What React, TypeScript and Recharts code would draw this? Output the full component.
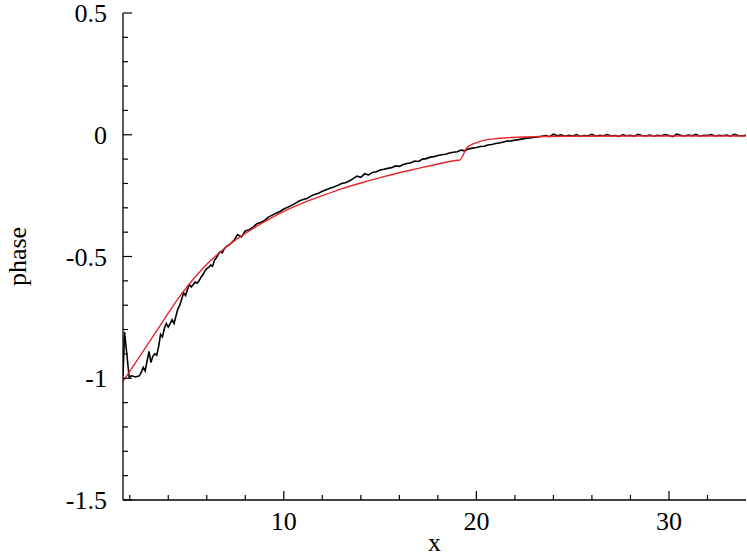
import React from "react";
import { LineChart, Line, XAxis, YAxis, Label } from "recharts";

// ---- data ----
const measuredX = [
  1.65, 1.73, 1.97, 2.1, 2.3, 2.5, 2.6, 2.7, 2.8, 2.9, 3.0, 3.1, 3.2, 3.3, 3.4, 3.5, 3.6, 3.7, 3.8, 3.9,
  4.0, 4.1, 4.2, 4.3, 4.4, 4.5, 4.6, 4.7, 4.8, 4.9, 5.0, 5.1, 5.2, 5.3, 5.4, 5.5, 5.6, 5.7, 5.8, 5.9,
  6.0, 6.1, 6.2, 6.3, 6.4, 6.5, 6.6, 6.7, 6.8, 6.9, 7.0, 7.2, 7.4, 7.6, 7.8, 8.0, 8.2, 8.4, 8.6, 8.8,
  9.0, 9.2, 9.4, 9.6, 9.8, 10.0, 10.2, 10.4, 10.6, 10.8, 11.0, 11.2, 11.4, 11.6, 11.8, 12.0, 12.2, 12.4,
  12.6, 12.8, 13.0, 13.2, 13.4, 13.6, 13.8, 14.0, 14.2, 14.4, 14.6, 14.8, 15.0, 15.2, 15.4, 15.6, 15.8,
  16.0, 16.2, 16.4, 16.6, 16.8, 17.0, 17.2, 17.4, 17.6, 17.8, 18.0, 18.2, 18.4, 18.6, 18.8, 19.0, 19.2,
  19.4, 19.6, 19.8, 20.0, 20.2, 20.4, 20.6, 20.8, 21.0, 21.2, 21.4, 21.6, 21.8, 22.0, 22.2, 22.4, 22.6,
  22.8, 23.0, 23.2, 23.4, 23.6, 23.8, 24.0, 24.2, 24.4, 24.6, 24.8, 25.0, 25.2, 25.4, 25.6, 25.8, 26.0,
  26.2, 26.4, 26.6, 26.8, 27.0, 27.2, 27.4, 27.6, 27.8, 28.0, 28.2, 28.4, 28.6, 28.8, 29.0, 29.2, 29.4,
  29.6, 29.8, 30.0, 30.2, 30.4, 30.6, 30.8, 31.0, 31.2, 31.4, 31.6, 31.8, 32.0, 32.2, 32.4, 32.6, 32.8,
  33.0, 33.2, 33.4, 33.6, 33.8, 34.0,
];
const measuredPhase = [
  -0.99, -0.81, -0.995, -0.99, -0.995, -0.99, -0.975, -0.955, -0.97, -0.93, -0.89, -0.935, -0.91, -0.9, -0.905, -0.87, -0.82, -0.83, -0.795, -0.775,
  -0.79, -0.775, -0.76, -0.775, -0.745, -0.715, -0.7, -0.675, -0.65, -0.66, -0.635, -0.615, -0.625, -0.615, -0.605, -0.61, -0.6, -0.585, -0.575, -0.56,
  -0.55, -0.545, -0.535, -0.54, -0.515, -0.505, -0.49, -0.48, -0.485, -0.47, -0.46, -0.45, -0.435, -0.41, -0.42, -0.395, -0.39, -0.38, -0.365, -0.36,
  -0.352, -0.338, -0.33, -0.322, -0.315, -0.305, -0.298, -0.29, -0.282, -0.272, -0.266, -0.262, -0.252, -0.245, -0.24, -0.232, -0.226, -0.22,
  -0.215, -0.208, -0.2, -0.197, -0.19, -0.18, -0.17, -0.175, -0.16, -0.165, -0.155, -0.152, -0.145, -0.142, -0.138, -0.135, -0.128,
  -0.13, -0.122, -0.118, -0.115, -0.108, -0.11, -0.1, -0.098, -0.092, -0.09, -0.085, -0.082, -0.08, -0.075, -0.072, -0.07, -0.063,
  -0.066, -0.058, -0.055, -0.052, -0.048, -0.047, -0.042, -0.04, -0.036, -0.034, -0.03, -0.026, -0.025, -0.022, -0.02, -0.017, -0.014,
  -0.013, -0.01, -0.009, -0.006, -0.003, -0.008, 0.002, -0.004, 0.0, -0.006, -0.002, -0.005, 0.001, -0.007, -0.003, -0.004, 0.002,
  -0.006, -0.002, -0.004, 0.001, -0.005, -0.003, -0.007, 0.0, -0.004, -0.002, -0.006, 0.002, -0.003, -0.005, -0.001, -0.006, -0.002,
  -0.004, 0.001, -0.003, -0.008, 0.003, -0.002, -0.005, -0.001, -0.004, 0.002, -0.006, -0.002, -0.003, 0.001, -0.005, -0.002, -0.004,
  -0.001, -0.006, 0.002, -0.003, -0.004, -0.002,
];

const modelX = [
  1.65, 2.0, 2.5, 3.0, 3.5, 4.0, 4.5, 5.0, 5.5, 6.0, 6.5, 7.0, 7.5, 8.0, 8.5, 9.0, 9.5, 10.0, 11, 12, 13, 14, 15,
  16, 17, 18, 18.5, 19.0, 19.14, 19.3, 19.49, 19.75, 20.0, 20.44, 21, 21.66, 22.5, 23.4, 25, 28, 31, 34,
];
const modelPhase = [
  -1.012, -0.972, -0.912, -0.853, -0.793, -0.733, -0.674, -0.622, -0.575, -0.532, -0.495, -0.462, -0.432, -0.405, -0.38,
  -0.357, -0.335, -0.315, -0.28, -0.25, -0.222, -0.198, -0.176, -0.156, -0.138, -0.12, -0.112, -0.105, -0.104, -0.085,
  -0.055, -0.041, -0.033, -0.022, -0.016, -0.012, -0.009, -0.007, -0.006, -0.005, -0.005, -0.005,
];

const xTicks = [2, 4, 6, 8, 10, 12, 14, 16, 18, 20, 22, 24, 26, 28, 30, 32];
const xMajor = [10, 20, 30];
const yTicks = [
  -1.5, -1.4, -1.3, -1.2, -1.1, -1.0, -0.9, -0.8, -0.7, -0.6, -0.5, -0.4, -0.3, -0.2, -0.1, 0, 0.1, 0.2, 0.3, 0.4, 0.5,
];
const yMajor = [-1.5, -1, -0.5, 0, 0.5];

const measured = measuredX.map((x, i) => ({ x, y: measuredPhase[i] }));
const model = modelX.map((x, i) => ({ x, y: modelPhase[i] }));

const FONT = "'Liberation Serif', 'Times New Roman', serif";
const FS = 26;
const MAJ = 9;
const MIN = 5;

const isYMajor = (v: number) => yMajor.some((m) => Math.abs(m - v) < 1e-6);
const isXMajor = (v: number) => xMajor.some((m) => Math.abs(m - v) < 1e-6);

const BottomTick = (p: any) => {
  const v = p.payload.value;
  const maj = isXMajor(v);
  return (
    <g>
      <line x1={p.x} y1={p.y} x2={p.x} y2={p.y - (maj ? MAJ : MIN)} stroke="#000" strokeWidth={1.2} />
      {maj && (
        <text x={p.x} y={p.y + 30} textAnchor="middle" fontSize={FS} fontFamily={FONT} fill="#000">
          {v}
        </text>
      )}
    </g>
  );
};
const TopTick = (p: any) => {
  const v = p.payload.value;
  const maj = isXMajor(v);
  return <line x1={p.x} y1={p.y} x2={p.x} y2={p.y + (maj ? MAJ : MIN)} stroke="#000" strokeWidth={1.2} />;
};
const LeftTick = (p: any) => {
  const v = p.payload.value;
  const maj = isYMajor(v);
  const label = Math.abs(v) < 1e-9 ? "0" : String(Math.round(v * 10) / 10);
  return (
    <g>
      <line x1={p.x} y1={p.y} x2={p.x + (maj ? MAJ : MIN)} y2={p.y} stroke="#000" strokeWidth={1.2} />
      {maj && (
        <text x={p.x - 16} y={p.y + 9} textAnchor="end" fontSize={FS} fontFamily={FONT} fill="#000">
          {label}
        </text>
      )}
    </g>
  );
};
const RightTick = (p: any) => {
  const v = p.payload.value;
  const maj = isYMajor(v);
  return <line x1={p.x} y1={p.y} x2={p.x - (maj ? MAJ : MIN)} y2={p.y} stroke="#000" strokeWidth={1.2} />;
};

const XLabel = (p: any) => {
  const vb = p.viewBox;
  return (
    <text x={vb.x + vb.width / 2} y={vb.y + 51} textAnchor="middle" fontSize={FS} fontFamily={FONT} fill="#000">
      x
    </text>
  );
};
const YLabel = (p: any) => {
  const vb = p.viewBox;
  const cx = vb.x + 26;
  const cy = vb.y + vb.height / 2;
  return (
    <text
      x={cx}
      y={cy}
      textAnchor="middle"
      fontSize={FS}
      fontFamily={FONT}
      fill="#000"
      transform={`rotate(-90, ${cx}, ${cy})`}
    >
      phase
    </text>
  );
};

export default function App() {
  return (
    <div style={{ position: "absolute", left: 0, top: 0, width: 747, height: 558, background: "#fff" }}>
      <LineChart width={747} height={558} margin={{ top: 13, right: 1, bottom: 0, left: 0 }}>
        <XAxis
          xAxisId="bottom"
          dataKey="x"
          type="number"
          domain={[1.65, 34]}
          allowDataOverflow
          ticks={xTicks}
          interval={0}
          height={58}
          tickSize={0}
          tickMargin={0}
          tickLine={false}
          axisLine={{ stroke: "#000", strokeWidth: 1.3 }}
          tick={(p: any) => <BottomTick {...p} />}
        >
          <Label content={(p: any) => <XLabel {...p} />} />
        </XAxis>
        <XAxis
          xAxisId="top"
          orientation="top"
          dataKey="x"
          type="number"
          domain={[1.65, 34]}
          allowDataOverflow
          ticks={xTicks}
          interval={0}
          height={0}
          tickSize={0}
          tickMargin={0}
          tickLine={false}
          axisLine={{ stroke: "#000", strokeWidth: 1.3 }}
          tick={(p: any) => <TopTick {...p} />}
        />
        <YAxis
          yAxisId="left"
          dataKey="y"
          type="number"
          domain={[-1.5, 0.5]}
          allowDataOverflow
          ticks={yTicks}
          interval={0}
          width={123}
          tickSize={0}
          tickMargin={0}
          tickLine={false}
          axisLine={{ stroke: "#000", strokeWidth: 1.3 }}
          tick={(p: any) => <LeftTick {...p} />}
        >
          <Label content={(p: any) => <YLabel {...p} />} />
        </YAxis>
        <YAxis
          yAxisId="right"
          orientation="right"
          dataKey="y"
          type="number"
          domain={[-1.5, 0.5]}
          allowDataOverflow
          ticks={yTicks}
          interval={0}
          width={0}
          tickSize={0}
          tickMargin={0}
          tickLine={false}
          axisLine={{ stroke: "#000", strokeWidth: 1.3 }}
          tick={(p: any) => <RightTick {...p} />}
        />
        <Line
          xAxisId="bottom"
          yAxisId="left"
          data={measured}
          dataKey="y"
          type="linear"
          stroke="#000"
          strokeWidth={1.6}
          dot={false}
          isAnimationActive={false}
        />
        <Line
          xAxisId="bottom"
          yAxisId="left"
          data={model}
          dataKey="y"
          type="monotone"
          stroke="#e8262a"
          strokeWidth={1.4}
          dot={false}
          isAnimationActive={false}
        />
      </LineChart>
    </div>
  );
}
